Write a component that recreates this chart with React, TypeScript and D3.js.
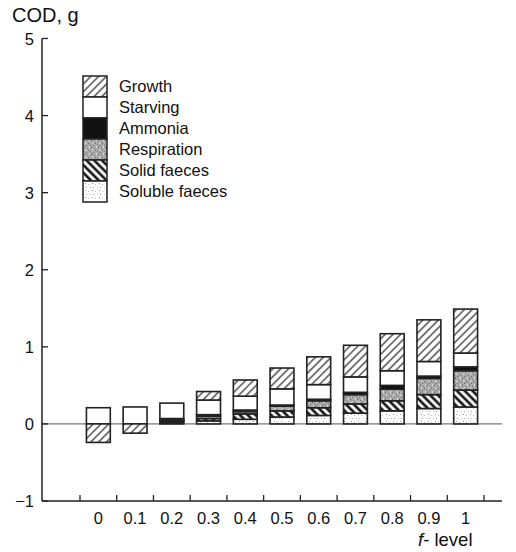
import React from "react";
import * as d3 from "d3";

const fLevels = ["0", "0.1", "0.2", "0.3", "0.4", "0.5", "0.6", "0.7", "0.8", "0.9", "1"];
const solubleFaeces = [0, 0, 0.02, 0.04, 0.06, 0.09, 0.11, 0.14, 0.17, 0.2, 0.22];
const solidFaeces = [0, 0, 0.02, 0.03, 0.07, 0.08, 0.1, 0.12, 0.13, 0.18, 0.22];
const respiration = [0, 0, 0.01, 0.03, 0.03, 0.06, 0.09, 0.12, 0.15, 0.21, 0.25];
const ammonia = [0, 0, 0.02, 0.02, 0.02, 0.015, 0.02, 0.03, 0.05, 0.03, 0.05];
const starving = [0.21, 0.22, 0.2, 0.19, 0.18, 0.21, 0.19, 0.2, 0.19, 0.19, 0.18];
const growth = [-0.24, -0.12, 0, 0.11, 0.21, 0.27, 0.36, 0.41, 0.48, 0.54, 0.57];

const seriesKeys = ["soluble", "solid", "respiration", "ammonia", "starving", "growth"];
const seriesNames = ["Soluble faeces", "Solid faeces", "Respiration", "Ammonia", "Starving", "Growth"];
const seriesFills = ["url(#pSoluble)", "url(#pSolid)", "url(#pResp)", "#111", "#fff", "url(#pGrowth)"];
const yTicks = [-1, 0, 1, 2, 3, 4, 5];

const FONT = "'Liberation Sans', Arial, Helvetica, sans-serif";

export default function App() {
  const W = 516, H = 552;
  const y = d3.scaleLinear().domain([-1, 5]).range([501, 38.5]);
  const x = d3.scaleBand<string>().domain(fLevels).range([80, 484]).paddingInner(0.35).paddingOuter(0.175);
  const step = x.step();
  const table = fLevels.map((f, i) => ({
    f,
    soluble: solubleFaeces[i],
    solid: solidFaeces[i],
    respiration: respiration[i],
    ammonia: ammonia[i],
    starving: starving[i],
    growth: growth[i],
  }));
  const stack = d3.stack<any>().keys(seriesKeys).offset(d3.stackOffsetDiverging);
  const layers = stack(table);
  const axisX = 42;
  const axisY = y(-1);
  const boundaries = fLevels.map((f) => (x(f) as number) - (step - x.bandwidth()) / 2);
  boundaries.push(boundaries[boundaries.length - 1] + step);

  const legX = 83, legY0 = 76, legRowH = 21, legW = 24;
  const legendOrder = [5, 4, 3, 2, 1, 0];

  return (
    <svg width={W} height={H} style={{ display: "block", position: "absolute", left: 0, top: 0 }} fontFamily={FONT}>
      <defs>
        <pattern id="pGrowth" patternUnits="userSpaceOnUse" width="5.5" height="5.5" patternTransform="rotate(45)">
          <rect width="5.5" height="5.5" fill="#fff" />
          <line x1="2.75" y1="0" x2="2.75" y2="5.5" stroke="#111" strokeWidth="1.1" />
        </pattern>
        <pattern id="pSolid" patternUnits="userSpaceOnUse" width="5.5" height="5.5" patternTransform="rotate(-45)">
          <rect width="5.5" height="5.5" fill="#fff" />
          <line x1="2.75" y1="0" x2="2.75" y2="5.5" stroke="#111" strokeWidth="2.6" />
        </pattern>
        <pattern id="pResp" patternUnits="userSpaceOnUse" width="7" height="7">
          <rect width="7" height="7" fill="#ababab" />
          <rect x="0" y="0" width="1" height="1" fill="#666" />
          <rect x="3" y="1" width="1" height="1" fill="#777" />
          <rect x="5" y="0" width="1" height="1" fill="#ddd" />
          <rect x="1" y="3" width="1" height="1" fill="#ddd" />
          <rect x="4" y="3" width="1" height="1" fill="#666" />
          <rect x="6" y="4" width="1" height="1" fill="#777" />
          <rect x="2" y="5" width="1" height="1" fill="#666" />
          <rect x="5" y="6" width="1" height="1" fill="#ddd" />
          <rect x="0" y="6" width="1" height="1" fill="#888" />
          <rect x="2" y="2" width="1" height="1" fill="#d0d0d0" />
        </pattern>
        <pattern id="pSoluble" patternUnits="userSpaceOnUse" width="7" height="7">
          <rect width="7" height="7" fill="#fff" />
          <rect x="1" y="1" width="1" height="1" fill="#999" />
          <rect x="4" y="2" width="1" height="1" fill="#bbb" />
          <rect x="2" y="5" width="1" height="1" fill="#aaa" />
          <rect x="6" y="5" width="1" height="1" fill="#ccc" />
        </pattern>
      </defs>

      <line x1={axisX} x2={502} y1={y(0)} y2={y(0)} stroke="#555" strokeWidth={1} />

      {layers.map((layer, li) => (
        <g key={seriesKeys[li]}>
          {layer.map((d, i) => {
            const y0 = y(d[0]);
            const y1 = y(d[1]);
            const h = Math.abs(y0 - y1);
            if (h < 0.01) return null;
            return (
              <rect
                key={i}
                x={x(fLevels[i])}
                y={Math.min(y0, y1)}
                width={x.bandwidth()}
                height={h}
                fill={seriesFills[li]}
                stroke="#222"
                strokeWidth={1.6}
              />
            );
          })}
        </g>
      ))}

      <line x1={axisX} x2={axisX} y1={y(5)} y2={axisY} stroke="#222" strokeWidth={1.5} />
      {yTicks.map((t) => (
        <g key={t}>
          <line x1={axisX} x2={axisX + 6} y1={y(t)} y2={y(t)} stroke="#222" strokeWidth={1.3} />
          <text x={34} y={y(t) + 6} textAnchor="end" fontSize={16.5} fill="#111">
            {t < 0 ? "\u2212" + Math.abs(t) : String(t)}
          </text>
        </g>
      ))}
      <text x={12} y={22} fontSize={20} fill="#111">COD, g</text>

      <line x1={axisX} x2={502} y1={axisY} y2={axisY} stroke="#222" strokeWidth={1.5} />
      {boundaries.map((bx, i) => (
        <line key={i} x1={bx} x2={bx} y1={axisY} y2={axisY - 6} stroke="#222" strokeWidth={1.3} />
      ))}
      {fLevels.map((f) => (
        <text key={f} x={(x(f) as number) + x.bandwidth() / 2} y={524} textAnchor="middle" fontSize={16.5} fill="#111">
          {f}
        </text>
      ))}
      <text x={418} y={546} fontSize={18.5} fill="#111">
        <tspan fontStyle="italic">f</tspan>
        <tspan>{"- level"}</tspan>
      </text>

      {legendOrder.map((si, r) => (
        <g key={si}>
          <rect x={legX} y={legY0 + r * legRowH} width={legW} height={legRowH} fill={seriesFills[si]} stroke="#222" strokeWidth={1.5} />
          <text x={119} y={legY0 + r * legRowH + 16} fontSize={16.5} fill="#111">
            {seriesNames[si]}
          </text>
        </g>
      ))}
    </svg>
  );
}
